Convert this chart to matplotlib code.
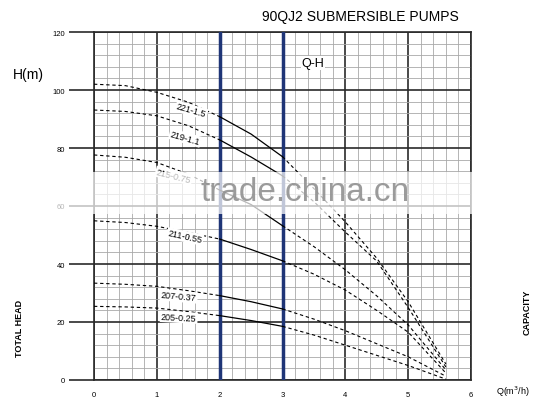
import numpy as np
import matplotlib
matplotlib.use("Agg")
import matplotlib.pyplot as plt
from matplotlib.patches import Rectangle

plt.rcParams["font.family"] = ["Liberation Sans", "DejaVu Sans"]

# flow Q (m3/h) and head H (m)
flow = np.array([0, 0.5, 1, 1.5, 2, 2.5, 3, 3.5, 4, 4.5, 5, 5.6])
head_221 = np.array([102, 101.5, 99.2, 95.8, 90.8, 84.8, 77, 66, 54.5, 42, 27, 5.5])
head_219 = np.array([93.1, 92.6, 91.1, 87.7, 82.8, 76.9, 70.4, 61.5, 51, 41, 25, 4.5])
head_215 = np.array([77.6, 76.8, 75, 71, 65.5, 60.5, 53.2, 46, 38, 29, 19, 3.5])
head_211 = np.array([54.9, 54.3, 53, 50.9, 48.6, 45, 41.1, 36.5, 31, 24, 16.5, 2.4])
head_207 = np.array([33.4, 33, 32.3, 30.8, 29.1, 27, 24.5, 21, 17, 12.5, 8, 1.3])
head_205 = np.array([25.4, 25.2, 24.8, 23.6, 22.2, 20.5, 18.5, 15.5, 12, 8.5, 5, 0.3])

models = ["221-1.5", "219-1.1", "215-0.75", "211-0.55", "207-0.37", "205-0.25"]
heads = [head_221, head_219, head_215, head_211, head_207, head_205]
# label positions (Q, H, angle)
label_pos = [(1.55, 93.0, -16), (1.45, 83.5, -16), (1.27, 70.5, -14),
             (1.45, 49.5, -12), (1.35, 28.8, -5), (1.35, 21.6, -3)]

x_ticks = [0, 1, 2, 3, 4, 5, 6]
y_ticks = [0, 20, 40, 60, 80, 100, 120]
range_lo, range_hi = 2, 3


def main():
    fig = plt.figure(figsize=(5.47, 4.06), dpi=100)
    ax = fig.add_axes([94 / 547, 25 / 406, 377 / 547, 348 / 406])
    ax.set_xlim(0, 6)
    ax.set_ylim(0, 120)

    # grid
    for x in np.arange(0, 6.01, 0.2):
        major = abs(x - round(x)) < 1e-6
        ax.axvline(x, color="#2a2a2a" if major else "#a8a8a8",
                   lw=1.2 if major else 0.6, zorder=1)
    for y in np.arange(0, 120.01, 4):
        major = abs(y / 20 - round(y / 20)) < 1e-6
        ax.axhline(y, color="#2a2a2a" if major else "#a8a8a8",
                   lw=1.2 if major else 0.6, zorder=1)

    ax.axvline(range_lo, color="#1f3577", lw=2.5, zorder=3)
    ax.axvline(range_hi, color="#1f3577", lw=2.5, zorder=3)

    for h, name, (lx, ly, rot) in zip(heads, models, label_pos):
        left = flow <= range_lo
        mid = (flow >= range_lo) & (flow <= range_hi)
        right = flow >= range_hi
        ax.plot(flow[left], h[left], color="black", lw=0.8, ls=(0, (3, 2.5)), zorder=4)
        ax.plot(flow[mid], h[mid], color="black", lw=0.9, zorder=4)
        ax.plot(flow[right], h[right], color="black", lw=0.8, ls=(0, (3, 2.5)), zorder=4)
        ax.text(lx, ly, name, fontsize=6.5, rotation=rot, ha="center", va="center",
                bbox=dict(fc="white", ec="none", pad=0.8), zorder=5)

    for s in ax.spines.values():
        s.set_color("#2a2a2a")
        s.set_linewidth(1.2)

    ax.set_xticks(x_ticks)
    ax.set_yticks(y_ticks)
    ax.tick_params(axis="y", length=18, width=1.2, color="#2a2a2a", labelsize=5.5, pad=3)
    ax.tick_params(axis="x", length=0, labelsize=5.5, pad=8)

    ax.text(3.48, 109.3, "Q-H", fontsize=9, ha="center", va="center", zorder=5,
            bbox=dict(fc="white", ec="none", pad=0.5))

    fig.text(360 / 547, 1 - 17 / 406, "90QJ2 SUBMERSIBLE PUMPS", fontsize=10,
             ha="center", va="center")
    fig.text(28 / 547, 1 - 75 / 406, "H(m)", fontsize=10, ha="center", va="center")
    fig.text(20 / 547, 1 - 328 / 406, "TOTAL HEAD", fontsize=6.5, rotation=90,
             ha="center", va="center", weight="bold")
    fig.text(527 / 547, 1 - 312 / 406, "CAPACITY", fontsize=6.5, rotation=90,
             ha="center", va="center", weight="bold")
    fig.text(513 / 547, 1 - 392 / 406, "Q(m$^3$/h)", fontsize=6.5, ha="center", va="center")

    # watermark band
    fig.patches.append(Rectangle((0, 1 - 215 / 406), 1, 42 / 406,
                                 transform=fig.transFigure, fc="white", ec="none",
                                 alpha=0.72, zorder=10))
    fig.text(305 / 547, 1 - 193 / 406, "trade.china.cn", fontsize=24, color="#909090",
             ha="center", va="center", alpha=0.9, zorder=11)

    fig.savefig("out.png", dpi=100)


if __name__ == "__main__":
    main()
